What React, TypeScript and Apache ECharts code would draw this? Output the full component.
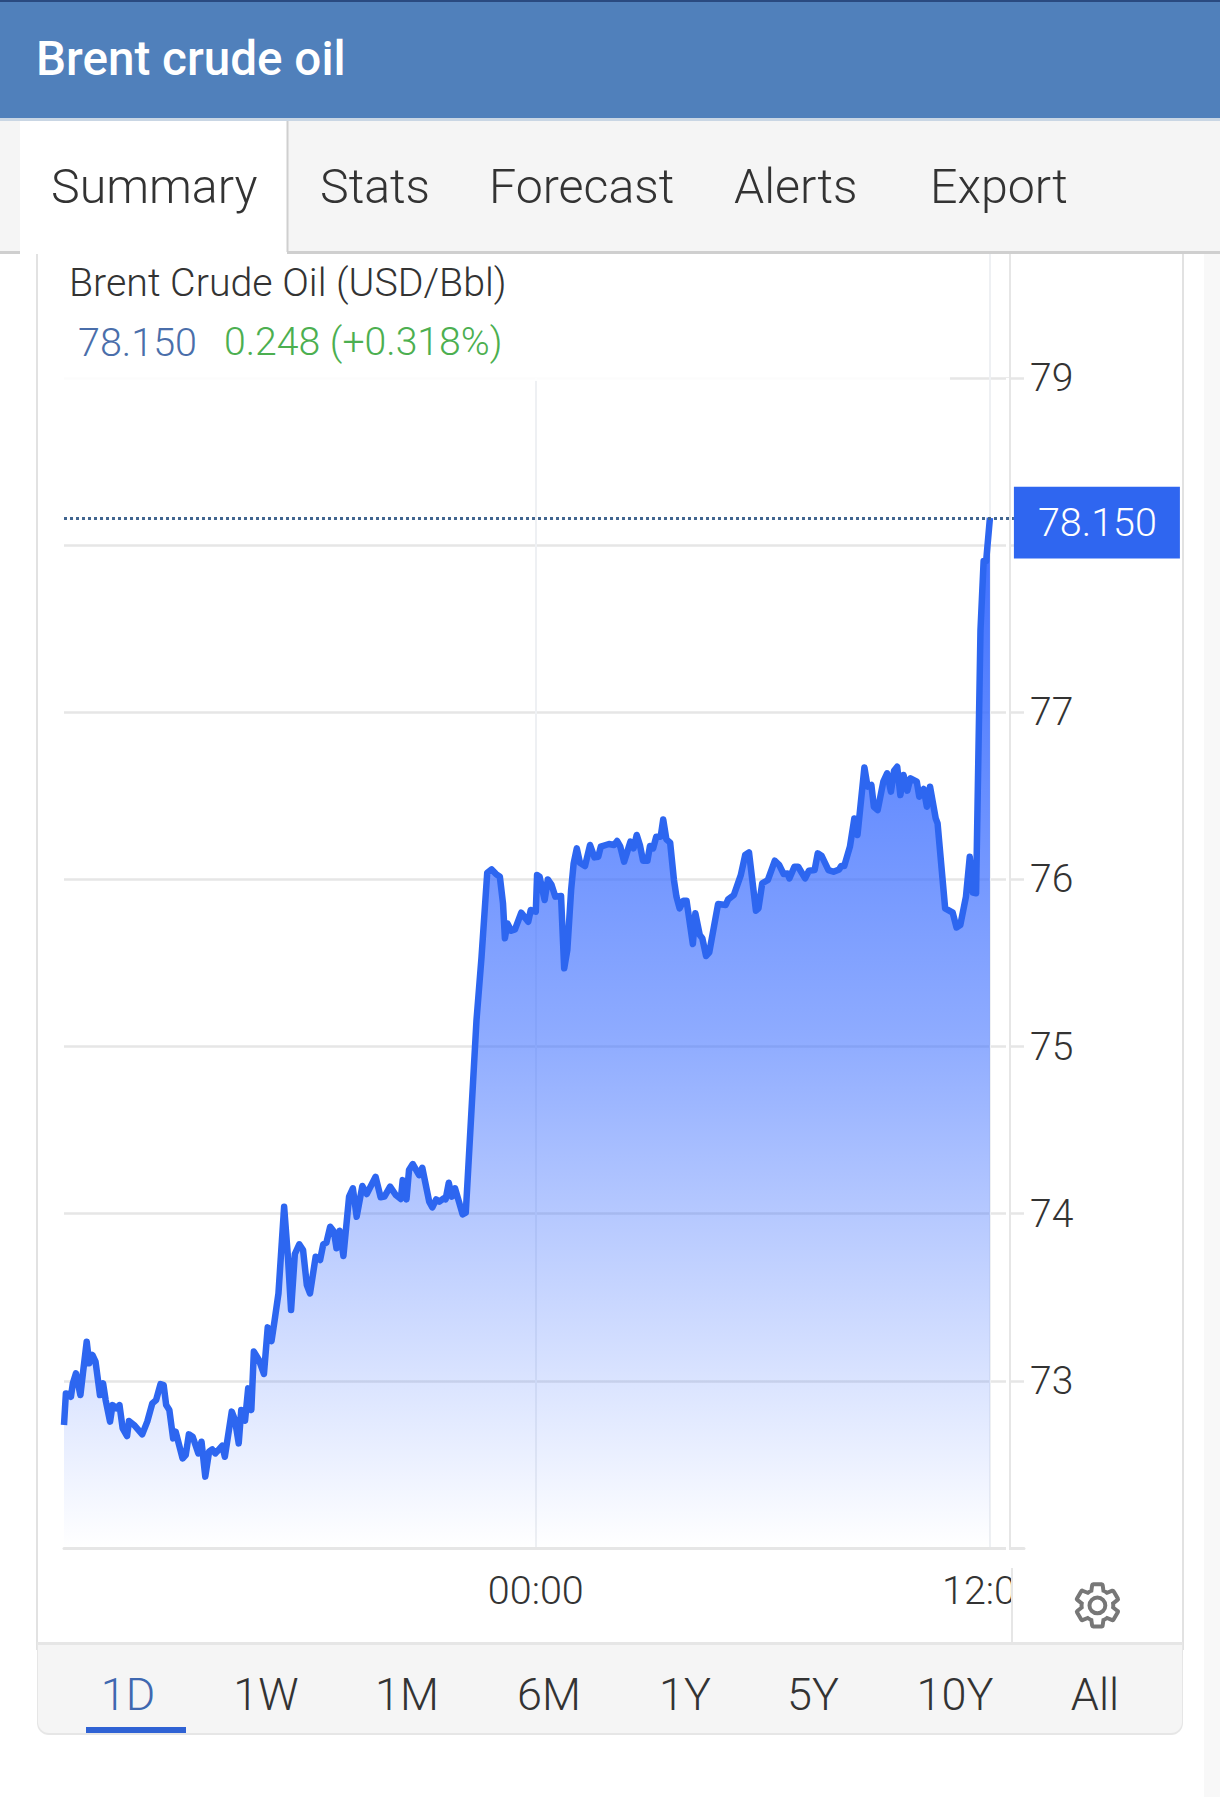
import React, { useEffect, useRef } from "react";
import * as echarts from "echarts";

const minutes = [-748,-745,-741,-737,-734,-729,-722,-718,-712,-708,-703,-698,-691,-686,-682,-675,-671,-665,-660,-655,-648,-645,-637,-624,-616,-608,-602,-595,-590,-586,-581,-575,-571,-560,-555,-550,-544,-535,-530,-524,-518,-513,-508,-497,-493,-482,-477,-471,-467,-461,-456,-451,-447,-439,-431,-425,-419,-414,-408,-399,-393,-388,-382,-375,-369,-363,-358,-349,-342,-337,-332,-326,-320,-316,-311,-305,-296,-290,-284,-275,-268,-254,-246,-240,-231,-222,-214,-211,-205,-201,-195,-185,-180,-169,-164,-158,-153,-146,-143,-138,-133,-128,-116,-111,
-94,-86,-77,-70,-63,-57,-52,-49,-45,-39,-33,-23,-12,-8,0,2,6,14,19,25,31,40,45,50,56,60,65,70,78,86,93,99,103,111,116,124,129,134,140,150,155,160,165,170,177,181,186,191,198,202,207,213,219,223,228,234,239,249,253,260,264,270,275,289,301,305,314,325,332,338,349,353,359,368,379,386,393,399,402,410,416,427,433,442,447,453,464,472,481,484,489,498,505,510,521,526,532,536,542,551,557,563,568,573,578,583,589,594,604,608,615,620,625,634,637,649,661,667,673,682,688,693,698,705,710,714,720];

const prices = [72.736,72.925,72.921,72.905,72.985,73.045,72.915,73.045,73.234,73.105,73.155,73.115,72.915,72.985,72.885,72.756,72.855,72.836,72.855,72.716,72.67,72.76,72.736,72.68,72.756,72.865,72.885,72.981,72.975,72.855,72.826,72.656,72.696,72.536,72.556,72.68,72.666,72.566,72.636,72.427,72.576,72.59,72.566,72.612,72.546,72.816,72.766,72.626,72.826,72.762,72.955,72.826,73.175,73.125,73.041,73.32,73.238,73.364,73.523,74.042,73.743,73.424,73.759,73.817,73.783,73.573,73.523,73.743,73.723,73.817,73.827,73.922,73.892,73.793,73.898,73.747,74.102,74.152,73.982,74.166,74.118,74.221,74.098,74.102,74.162,74.112,74.088,74.201,74.086,74.261,74.297,74.231,74.275,74.072,74.038,74.086,74.072,74.092,74.086,74.185,74.102,74.152,73.996,74.006,
75.159,75.538,76.04,76.06,76.032,76.016,75.857,75.648,75.737,75.693,75.701,75.801,75.747,75.817,75.807,76.026,76.016,75.877,76,75.967,75.897,75.901,75.468,75.578,75.937,76.096,76.186,76.1,76.08,76.206,76.132,76.136,76.196,76.206,76.212,76.206,76.23,76.196,76.106,76.226,76.186,76.266,76.206,76.112,76.112,76.2,76.186,76.256,76.256,76.359,76.24,76.22,75.997,75.897,75.827,75.873,75.873,75.614,75.797,75.667,75.648,75.542,75.564,75.853,75.847,75.881,75.907,76.026,76.146,76.162,75.813,75.827,75.977,75.997,76.112,76.086,76.032,76.036,76.006,76.076,76.076,76.006,76.052,76.056,76.156,76.142,76.056,76.046,76.06,76.08,76.08,76.196,76.365,76.266,76.67,76.555,76.565,76.435,76.415,76.585,76.635,76.525,76.65,76.674,76.505,76.625,76.531,76.605,76.585,76.495,76.541,76.435,76.555,76.365,76.335,75.827,75.801,75.713,75.727,75.897,76.136,75.921,75.917,77.492,77.905,77.905,78.163];

const yLabels = ["73", "74", "75", "76", "77", "79"];
const xTicks = [0, 720];
const xTickLabels = ["00:00", "12:00"];
const tabs = ["Summary", "Stats", "Forecast", "Alerts", "Export"];
const ranges = ["1D", "1W", "1M", "6M", "1Y", "5Y", "10Y", "All"];
const lastPrice = "78.150";
const guideLevel = 78.163;

const tabX = [51, 320, 489, 734, 930];
const rangeX = [128, 266, 407, 549, 685, 813, 955, 1095];
const FONT = "Roboto";
const GRID = "#e6e6e6";

const gearPath = "M19.14,12.94c0.04-0.3,0.06-0.61,0.06-0.94c0-0.32-0.02-0.64-0.07-0.94l2.03-1.58c0.18-0.14,0.23-0.41,0.12-0.61 l-1.92-3.32c-0.12-0.22-0.37-0.29-0.59-0.22l-2.39,0.96c-0.5-0.38-1.03-0.7-1.62-0.94L14.4,2.81c-0.04-0.24-0.24-0.41-0.48-0.41 h-3.84c-0.24,0-0.43,0.17-0.47,0.41L9.25,5.35C8.66,5.59,8.12,5.92,7.63,6.29L5.24,5.33c-0.22-0.08-0.47,0-0.59,0.22L2.74,8.87 C2.62,9.08,2.66,9.34,2.86,9.48l2.03,1.58C4.84,11.36,4.8,11.69,4.8,12s0.02,0.64,0.07,0.94l-2.03,1.58 c-0.18,0.14-0.23,0.41-0.12,0.61l1.92,3.32c0.12,0.22,0.37,0.29,0.59,0.22l2.39-0.96c0.5,0.38,1.03,0.7,1.62,0.94l0.36,2.54 c0.05,0.24,0.24,0.41,0.48,0.41h3.84c0.24,0,0.44-0.17,0.47-0.41l0.36-2.54c0.59-0.24,1.13-0.56,1.62-0.94l2.39,0.96 c0.22,0.08,0.47,0,0.59-0.22l1.92-3.32c0.12-0.22,0.07-0.47-0.12-0.61L19.14,12.94z M12,15.6c-1.98,0-3.6-1.62-3.6-3.6 s1.62-3.6,3.6-3.6s3.6,1.62,3.6,3.6S13.98,15.6,12,15.6z";

function rect(x: number, y: number, w: number, h: number, fill: string, z = 1, r?: number[]) {
  return { type: "rect", z, silent: true, shape: { x, y, width: w, height: h, r: r || 0 }, style: { fill } };
}
function vline(x: number, y1: number, y2: number, stroke: string, lineWidth = 2, z = 1) {
  return { type: "line", z, silent: true, shape: { x1: x, y1, x2: x, y2 }, style: { stroke, lineWidth } };
}
function label(text: string, x: number, y: number, fontSize: number, fill: string, fontWeight: number | string = 300, align = "left") {
  return {
    type: "text", z: 20, silent: true, x, y,
    style: { text, fontSize, fontFamily: FONT, fontWeight, fill, align, verticalAlign: "middle" },
  };
}

export default function App() {
  const ref = useRef<HTMLDivElement>(null);
  useEffect(() => {
    document.body.style.margin = "0";
    echarts.graphic.registerShape("gear", echarts.graphic.extendPath(gearPath as any, {} as any) as any);
    const chart = echarts.init(ref.current!, undefined, { renderer: "svg" });
    chart.setOption({
      animation: false,
      backgroundColor: "#ffffff",
      grid: { left: 64, top: 378, width: 960, height: 1170, containLabel: false },
      xAxis: {
        type: "value", min: -748, max: 774,
        axisLine: { show: true, lineStyle: { color: GRID, width: 3 } },
        axisTick: { show: false, customValues: xTicks },
        splitLine: { show: true, lineStyle: { color: "#eef0f3", width: 2 } },
        axisLabel: {
          customValues: xTicks, margin: 22, color: "#333333", fontFamily: FONT, fontWeight: 300, fontSize: 39.5,
          showMinLabel: true, showMaxLabel: true,
          formatter: (v: number) => xTickLabels[xTicks.indexOf(v)] ?? "",
        },
      },
      yAxis: {
        type: "value", position: "right", min: 72, max: 79, interval: 1,
        axisLine: { show: false },
        axisTick: { show: false },
        splitLine: { show: true, lineStyle: { color: GRID, width: 2.5 } },
        axisLabel: {
          margin: 6, color: "#333333", fontFamily: FONT, fontWeight: 300, fontSize: 39,
          formatter: (v: number) => (yLabels.includes(String(v)) ? String(v) : ""),
        },
      },
      series: [{
        type: "line", showSymbol: false, clip: false, z: 5,
        data: minutes.map((m, i) => [m, prices[i]]),
        lineStyle: { color: "#2d66f0", width: 6.5, join: "round" },
        itemStyle: { color: "#2d66f0" },
        areaStyle: {
          opacity: 1,
          color: new echarts.graphic.LinearGradient(0, 520, 0, 1548, [
            { offset: 0, color: "rgba(60,110,255,1)" },
            { offset: 0.5, color: "rgba(60,110,255,0.58)" },
            { offset: 1, color: "rgba(60,110,255,0)" },
          ], true),
        },
        markLine: {
          silent: true, symbol: "none", animation: false, z: 9,
          lineStyle: { type: "dotted", color: "#41658f", width: 3 },
          data: [[
            { coord: [-748, guideLevel] },
            {
              coord: [758, guideLevel],
              label: {
                show: true, position: "end", distance: 0, formatter: lastPrice,
                color: "#ffffff", backgroundColor: "#2f66f0", fontFamily: FONT, fontWeight: 300, fontSize: 39.5,
                padding: [17.5, 23, 14.1, 24], offset: [0, 4.7],
              },
            },
          ]],
        },
      }],
      graphic: {
        elements: [
          rect(0, 0, 1220, 118, "#5080bb", 1),
          rect(0, 0, 1220, 2, "#2a4a80", 2),
          rect(0, 118, 1220, 3, "#c9d6e4", 1),
          rect(0, 121, 1220, 130, "#f5f5f5", 1),
          rect(0, 251, 1220, 3, "#cfcfcf", 1),
          rect(20, 121, 267, 133, "#ffffff", 2),
          vline(287.5, 121, 252, "#cfcfcf", 2, 3),
          rect(1204, 254, 16, 1543, "#f8f8f8", 1),
          vline(37, 254, 1650, "#e2e2e2", 2, 1),
          vline(1183, 254, 1650, "#e2e2e2", 2, 1),
          vline(990, 254, 378, "#eef0f3", 2, 1),
          vline(1010, 254, 1548, "#e6e6e6", 2, 4),
          vline(1007.5, 378, 1550, "#ffffff", 3, 4),
          rect(64, 375, 886, 6, "rgba(255,255,255,0.88)", 4),
          rect(1013, 1565, 60, 50, "#ffffff", 30),
          vline(1012, 1568, 1643, "#e6e6e6", 2, 31),
          rect(37, 1642, 1146, 93, "#e6e6e6", 8, [0, 0, 12, 12]),
          rect(38, 1645, 1144, 88, "#f5f5f5", 9, [0, 0, 11, 11]),
          rect(86, 1727, 100, 6, "#2f62d4", 10),
          {
            type: "gear", z: 20, silent: true, x: 1071, y: 1579, scaleX: 2.2, scaleY: 2.2,
            style: { fill: "none", stroke: "#777777", lineWidth: 1.8 },
          },
          label("Brent crude oil", 36, 59, 47.6, "#ffffff", 500),
          ...tabs.map((t, i) => label(t, tabX[i], 186, 48.3, "#333333")),
          label("Brent Crude Oil (USD/Bbl)", 69, 283, 39.3, "#333333", 300),
          label(lastPrice, 78, 342, 39.5, "#4a6eaa"),
          label("0.248 (+0.318%)", 224, 342, 39.2, "#4caf50"),
          ...ranges.map((t, i) => label(t, rangeX[i], 1694, 45, i === 0 ? "#3f68b0" : "#333333", 300, "center")),
        ],
      },
    });
    return () => chart.dispose();
  }, []);
  return <div ref={ref} style={{ width: 1220, height: 1797, position: "absolute", left: 0, top: 0 }} />;
}
